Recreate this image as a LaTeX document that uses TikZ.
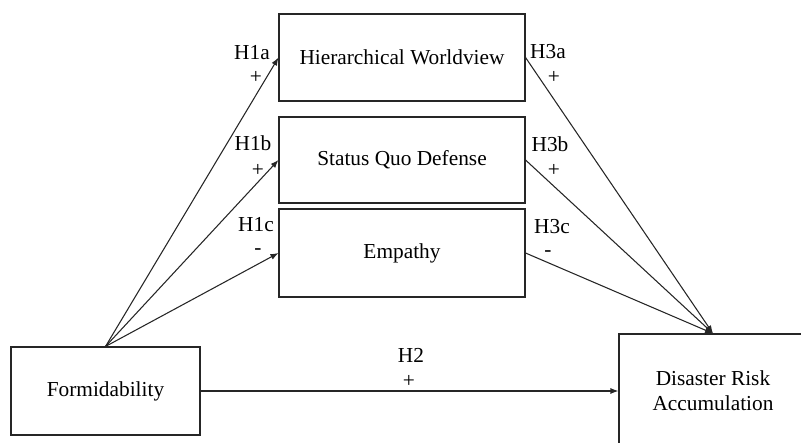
\documentclass[tikz,border=0pt]{standalone}
\usepackage{fontspec}
\setmainfont{Liberation Serif}
\usetikzlibrary{arrows.meta}

\begin{document}
\begin{tikzpicture}[x=0.75pt,y=0.75pt,yscale=-1,xscale=1,
  varbox/.style={draw=black!85,line width=0.8pt,align=center,inner sep=0pt,font=\fontsize{16}{18.75}\selectfont},
  hyplbl/.style={inner sep=0.75pt,font=\fontsize{16}{18.75}\selectfont},
  path/.style={draw=black!85,line width=0.8pt,-{Latex[length=6pt,width=4.5pt]}}]
\clip (0,0) rectangle (801,443);

%Shape: Rectangle [Formidability]
\node (form) [varbox,minimum width=141.75pt,minimum height=66pt] at (105.5,391) {Formidability};
%Shape: Rectangle [Hierarchical Worldview]
\node (hier) [varbox,minimum width=184.5pt,minimum height=65.25pt] at (402,57.5) {Hierarchical Worldview};
%Shape: Rectangle [Status Quo Defense]
\node (sqd) [varbox,minimum width=184.5pt,minimum height=64.5pt] at (402,160) {Status Quo Defense};
%Shape: Rectangle [Empathy]
\node (emp) [varbox,minimum width=184.5pt,minimum height=66pt] at (402,253) {Empathy};
%Shape: Rectangle [Disaster Risk Accumulation]
\node (dra) [varbox,minimum width=141pt,minimum height=85.5pt] at (713,391) {Disaster Risk\\Accumulation};

%Straight Lines
\draw [path] (form.north) -- (hier.west);
\draw [path] (form.north) -- (sqd.west);
\draw [path] (form.north) -- (emp.west);
\draw [path] (hier.east) -- (dra.north);
\draw [path] (sqd.east) -- (dra.north);
\draw [path] (emp.east) -- (dra.north);
\draw [path] (form.east) -- (dra.west);

% Text Node
\draw (252,53) node (hoa) [hyplbl] {H1a};
\draw (256,77) node (hoaSign) [hyplbl] {+};
% Text Node
\draw (253,143) node (hob) [hyplbl] {H1b};
\draw (258,170) node (hobSign) [hyplbl] {+};
% Text Node
\draw (256,225) node (hoc) [hyplbl] {H1c};
\draw (258,252) node (hocSign) [hyplbl] {-};
% Text Node
\draw (548,52) node (hta) [hyplbl] {H3a};
\draw (554,77) node (htaSign) [hyplbl] {+};
% Text Node
\draw (550,144) node (htb) [hyplbl] {H3b};
\draw (554,170) node (htbSign) [hyplbl] {+};
% Text Node
\draw (552,227) node (htc) [hyplbl] {H3c};
\draw (548,254) node (htcSign) [hyplbl] {-};
% Text Node
\draw (411,355) node (htwo) [hyplbl] {H2};
\draw (409,381) node (htwoSign) [hyplbl] {+};

\end{tikzpicture}
\end{document}
